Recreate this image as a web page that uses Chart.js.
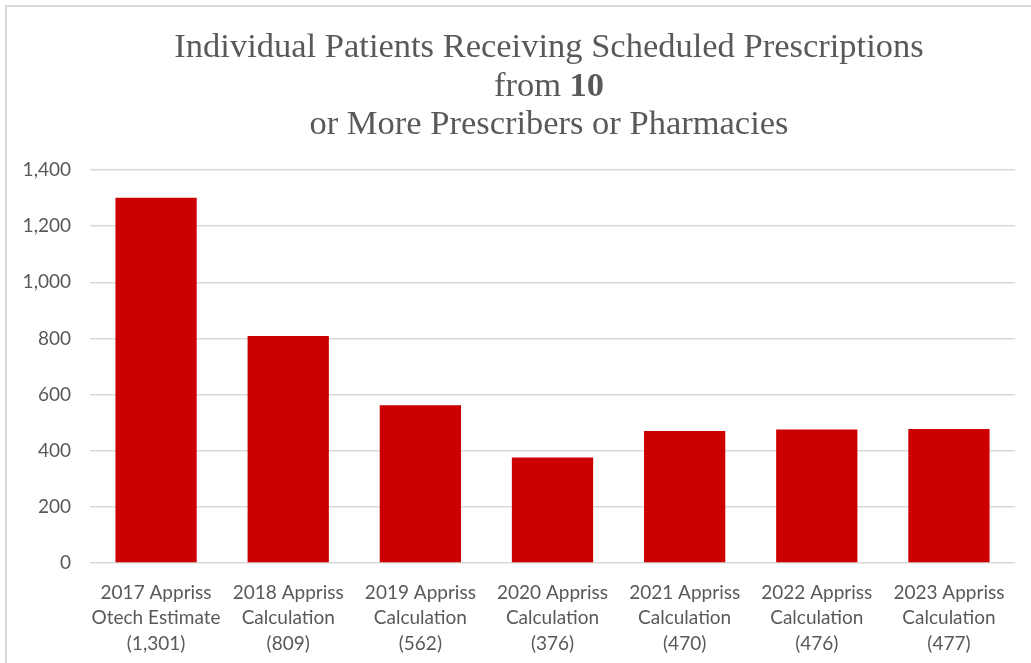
<!DOCTYPE html>
<html>
<head>
<meta charset="utf-8">
<script src="https://cdn.jsdelivr.net/npm/chart.js@4.4.1/dist/chart.umd.min.js"></script>
<style>
  html, body { margin: 0; padding: 0; background: #ffffff; overflow: hidden; }
  #frame { position: absolute; left: 5px; top: 5px; width: 1120px; height: 720px; border: 2px solid #d9d9d9; box-sizing: border-box; }
  #wrap { position: absolute; left: 0; top: 0; width: 1031px; height: 663px; }
</style>
</head>
<body>
<div id="frame"></div>
<div id="wrap"><canvas id="c" width="1031" height="663"></canvas></div>
<script>
const years = ["2017", "2018", "2019", "2020", "2021", "2022", "2023"];
const methods = ["Otech Estimate", "Calculation", "Calculation", "Calculation", "Calculation", "Calculation", "Calculation"];
const patients = [1301, 809, 562, 376, 470, 476, 477];
const yTicks = [0, 200, 400, 600, 800, 1000, 1200, 1400];
const titleLines = [
  [{ text: "Individual Patients Receiving Scheduled Prescriptions", bold: false }],
  [{ text: "from ", bold: false }, { text: "10", bold: true }],
  [{ text: "or More Prescribers or Pharmacies", bold: false }]
];

const labels = years.map((y, i) => [y + " Appriss", methods[i], "(" + patients[i].toLocaleString("en-US") + ")"]);

const titlePlugin = {
  id: "richTitle",
  afterDraw(chart) {
    const ctx = chart.ctx;
    const size = 34.5;
    const family = "'Liberation Serif', 'Times New Roman', serif";
    const centerX = 549;
    const ys = [48, 87, 125];
    ctx.save();
    ctx.fillStyle = "#595959";
    ctx.textBaseline = "middle";
    ctx.textAlign = "left";
    titleLines.forEach((parts, li) => {
      let total = 0;
      const widths = parts.map(p => {
        ctx.font = (p.bold ? "bold " : "") + size + "px " + family;
        const w = ctx.measureText(p.text).width;
        total += w;
        return w;
      });
      let x = centerX - total / 2;
      parts.forEach((p, pi) => {
        ctx.font = (p.bold ? "bold " : "") + size + "px " + family;
        ctx.fillText(p.text, x, ys[li]);
        x += widths[pi];
      });
    });
    ctx.restore();
  }
};

new Chart(document.getElementById("c"), {
  type: "bar",
  data: {
    labels: labels,
    datasets: [{
      data: patients,
      backgroundColor: "#cc0000",
      borderWidth: 0,
      categoryPercentage: 1.0,
      barPercentage: 0.615
    }]
  },
  options: {
    responsive: false,
    animation: false,
    devicePixelRatio: 1,
    layout: { padding: { top: 170, right: 16, bottom: 0, left: 0 } },
    plugins: {
      legend: { display: false },
      title: { display: false },
      tooltip: { enabled: false }
    },
    scales: {
      x: {
        grid: { display: false },
        border: { display: false },
        ticks: {
          color: "#595959",
          font: { family: "Lato, 'Liberation Sans', sans-serif", size: 19, lineHeight: 1.34 },
          padding: 9,
          maxRotation: 0,
          autoSkip: false
        },
        afterFit(scale) { scale.height = 100; }
      },
      y: {
        min: 0,
        max: 1400,
        afterBuildTicks(scale) { scale.ticks = yTicks.map(v => ({ value: v })); },
        grid: { color: "#d9d9d9", lineWidth: 1.5, drawTicks: false },
        border: { display: false },
        ticks: {
          color: "#595959",
          font: { family: "Lato, 'Liberation Sans', sans-serif", size: 19 },
          padding: 19,
          callback: v => v.toLocaleString("en-US")
        },
        afterFit(scale) { scale.width = 90; }
      }
    }
  },
  plugins: [titlePlugin]
});
</script>
</body>
</html>
